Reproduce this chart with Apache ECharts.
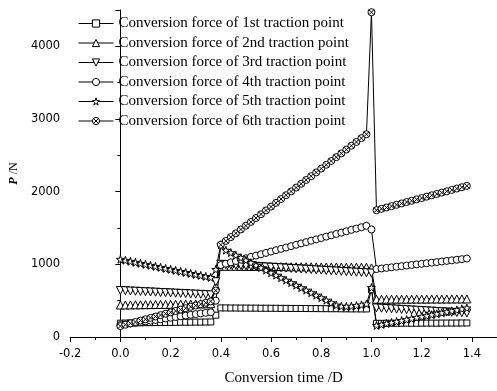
<!DOCTYPE html>
<html>
<head>
<meta charset="utf-8">
<script src="https://cdn.jsdelivr.net/npm/echarts@6/dist/echarts.min.js"></script>
<style>
  html, body { margin: 0; padding: 0; background: #fff; }
  #chart { width: 497px; height: 391px; }
</style>
</head>
<body>
<div id="chart"></div>
<script>
// conversion time /D
var times = [
  0.00, 0.02, 0.04, 0.06, 0.08, 0.10, 0.12, 0.14, 0.16, 0.18,
  0.20, 0.22, 0.24, 0.26, 0.28, 0.30, 0.32, 0.34, 0.36,
  0.38,
  0.40, 0.42, 0.44, 0.46, 0.48, 0.50, 0.52, 0.54, 0.56, 0.58,
  0.60, 0.62, 0.64, 0.66, 0.68, 0.70, 0.72, 0.74, 0.76, 0.78,
  0.80, 0.82, 0.84, 0.86, 0.88, 0.90, 0.92, 0.94, 0.96, 0.98,
  1.00,
  1.02, 1.04, 1.06, 1.08, 1.10, 1.12, 1.14, 1.16, 1.18, 1.20,
  1.22, 1.24, 1.26, 1.28, 1.30, 1.32, 1.34, 1.36, 1.38
];

var point1 = [
  190, 192, 194, 195, 196, 197, 198, 199, 200, 200,
  201, 202, 203, 203, 204, 205, 205, 206, 207,
  300,
  400, 400, 399, 399, 398, 398, 397, 397, 396, 396,
  395, 395, 394, 394, 393, 393, 392, 392, 391, 391,
  390, 390, 389, 389, 388, 388, 387, 387, 386, 386,
  650,
  188, 188, 189, 189, 189, 190, 190, 190, 190, 191,
  191, 191, 191, 192, 192, 192, 192, 193, 193
];

var point2 = [
  440, 441, 442, 443, 444, 445, 446, 447, 448, 449,
  450, 451, 452, 453, 454, 455, 456, 457, 458,
  700,
  975, 974, 974, 973, 973, 972, 972, 971, 971, 970,
  970, 969, 969, 968, 968, 967, 967, 966, 966, 965,
  965, 964, 964, 963, 963, 962, 962, 961, 961, 960,
  950,
  520, 520, 520, 521, 521, 521, 521, 522, 522, 522,
  522, 523, 523, 523, 523, 524, 524, 524, 524
];

var point3 = [
  640, 637, 633, 630, 627, 623, 620, 617, 613, 610,
  607, 603, 600, 597, 593, 590, 587, 583, 580,
  760,
  1000, 996, 992, 988, 984, 980, 976, 972, 968, 964,
  960, 956, 952, 948, 944, 940, 936, 932, 928, 924,
  920, 916, 912, 908, 904, 900, 896, 892, 888, 884,
  880,
  400, 396, 392, 388, 384, 380, 376, 372, 368, 364,
  360, 356, 352, 348, 344, 340, 337, 334, 330
];

var point4 = [
  165, 175, 185, 195, 205, 215, 225, 235, 245, 255,
  265, 275, 285, 295, 305, 315, 325, 332, 340,
  500,
  990, 1009, 1027, 1046, 1064, 1083, 1102, 1120, 1139, 1157,
  1176, 1195, 1213, 1232, 1250, 1269, 1288, 1306, 1325, 1343,
  1362, 1381, 1399, 1418, 1436, 1455, 1474, 1492, 1511, 1530,
  1480,
  935, 943, 951, 959, 967, 975, 983, 991, 999, 1007,
  1015, 1023, 1031, 1039, 1047, 1055, 1063, 1071, 1080
];

var point5 = [
  1070, 1056, 1042, 1028, 1014, 1000, 986, 972, 958, 944,
  931, 917, 903, 889, 875, 861, 847, 833, 820,
  930,
  1270, 1195, 1161, 1126, 1092, 1057, 1023, 989, 954, 920,
  885, 851, 817, 782, 748, 713, 679, 645, 610, 576,
  541, 507, 472, 440, 425, 420, 425, 432, 442, 455,
  680,
  160, 173, 187, 200, 213, 227, 240, 253, 267, 280,
  293, 307, 320, 333, 347, 360, 373, 387, 400
];

var point6 = [
  150, 169, 188, 207, 226, 244, 263, 282, 301, 320,
  339, 358, 377, 396, 415, 433, 452, 471, 490,
  640,
  1270, 1322, 1375, 1427, 1480, 1532, 1584, 1637, 1689, 1742,
  1794, 1846, 1899, 1951, 2003, 2056, 2108, 2161, 2213, 2265,
  2318, 2370, 2422, 2475, 2527, 2580, 2632, 2684, 2737, 2790,
  4470,
  1745, 1764, 1782, 1801, 1819, 1838, 1857, 1875, 1894, 1912,
  1931, 1950, 1968, 1987, 2005, 2024, 2043, 2061, 2080
];

var names = [
  'Conversion force of 1st traction point',
  'Conversion force of 2nd traction point',
  'Conversion force of 3rd traction point',
  'Conversion force of 4th traction point',
  'Conversion force of 5th traction point',
  'Conversion force of 6th traction point'
];

var starPath = 'path://M50,0 L61,35 L98,35 L68,57 L79,91 L50,70 L21,91 L32,57 L2,35 L39,35 Z';
var crossCirclePath = 'path://M0,50 A50,50 0 1,1 100,50 A50,50 0 1,1 0,50 Z M15,15 L85,85 M85,15 L15,85';

// marker per series: symbol, size, rotate
var markers = [
  ['rect', 6, 0],
  ['triangle', 8, 0],
  ['triangle', 8, 180],
  ['circle', 7, 0],
  [starPath, 8, 0],
  [crossCirclePath, 7, 0]
];

function pairs(ys) {
  var out = [];
  for (var i = 0; i < ys.length; i++) out.push([times[i], ys[i]]);
  return out;
}

var values = [point1, point2, point3, point4, point5, point6];
var series = values.map(function (ys, i) {
  return {
    name: names[i],
    type: 'line',
    data: pairs(ys),
    symbol: markers[i][0],
    symbolSize: markers[i][1],
    symbolRotate: markers[i][2],
    showAllSymbol: true,
    lineStyle: { color: '#000', width: 1 },
    itemStyle: { color: '#fff', borderColor: '#000', borderWidth: 1 },
    emphasis: { disabled: true }
  };
});

var chart = echarts.init(document.getElementById('chart'));
chart.setOption({
  animation: false,
  backgroundColor: '#fff',
  grid: { left: 69, top: 10, width: 430, height: 329, containLabel: false },
  legend: {
    orient: 'vertical',
    left: 73,
    top: 11,
    itemWidth: 35,
    itemHeight: 9,
    itemGap: 4.5,
    itemStyle: { color: '#fff', borderColor: '#000', borderWidth: 1 },
    lineStyle: { color: '#000', width: 1 },
    textStyle: { fontFamily: 'Liberation Serif', fontSize: 15, color: '#000', lineHeight: 15 },
    data: names
  },
  xAxis: {
    type: 'value',
    min: -0.2,
    max: 1.5,
    interval: 0.2,
    name: 'Conversion time /D',
    nameLocation: 'middle',
    nameGap: 34,
    nameTextStyle: { fontFamily: 'Liberation Serif', fontSize: 15, color: '#000' },
    axisLine: { lineStyle: { color: '#000', width: 1 } },
    axisTick: { inside: false, length: 5, lineStyle: { color: '#000' } },
    minorTick: { show: true, splitNumber: 2, length: 3, lineStyle: { color: '#000' } },
    splitLine: { show: false },
    axisLabel: {
      margin: 11,
      showMaxLabel: false,
      fontFamily: 'DejaVu Sans',
      fontSize: 11.5,
      color: '#000',
      formatter: function (v) { return v.toFixed(1); }
    }
  },
  yAxis: {
    type: 'value',
    min: 0,
    max: 4500,
    interval: 1000,
    name: '{p|P} /N',
    nameLocation: 'middle',
    nameGap: 50,
    nameTextStyle: {
      fontFamily: 'Liberation Serif', fontSize: 12, color: '#000',
      rich: { p: { fontFamily: 'Liberation Serif', fontSize: 12, fontStyle: 'italic', fontWeight: 'bold', color: '#000' } }
    },
    axisLine: { show: true, lineStyle: { color: '#000', width: 1 } },
    axisTick: { show: true, inside: false, length: 5, lineStyle: { color: '#000' } },
    minorTick: { show: true, splitNumber: 2, length: 3, lineStyle: { color: '#000' } },
    splitLine: { show: false },
    axisLabel: {
      margin: 10,
      showMaxLabel: false,
      fontFamily: 'DejaVu Sans',
      fontSize: 11.5,
      color: '#000',
      formatter: function (v) { return String(v); }
    }
  },
  series: series
});
</script>
</body>
</html>
